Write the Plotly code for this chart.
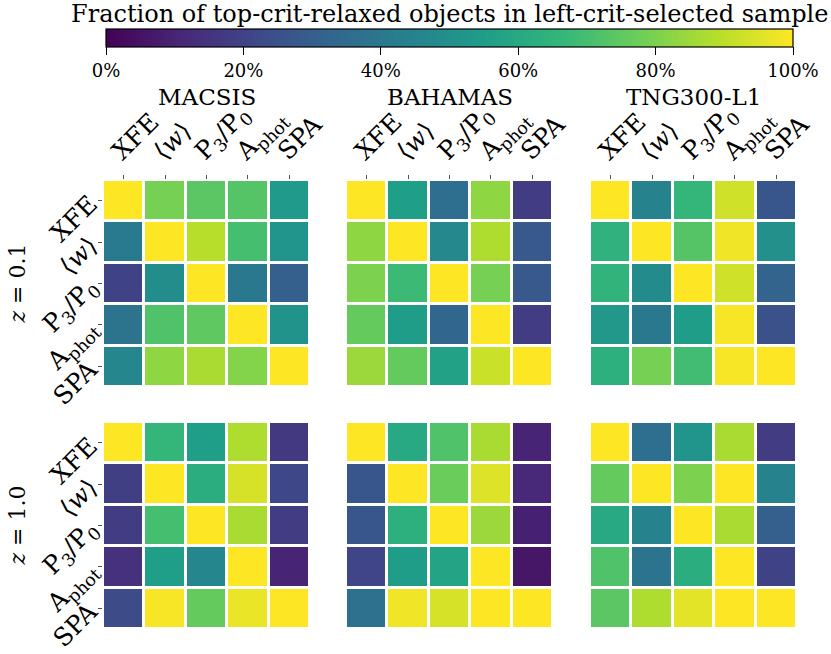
import plotly.graph_objects as go

criteria = ["XFE", "⟨<i>w</i>⟩", "P<sub>3</sub>/P<sub>0</sub>", "A<sub>phot</sub>", "SPA"]
simulations = ["MACSIS", "BAHAMAS", "TNG300-L1"]
redshifts = ["<i>z</i> = 0.1", "<i>z</i> = 1.0"]
cbar_title = "Fraction of top-crit-relaxed objects in left-crit-selected sample"
cbar_ticks = [0, 0.2, 0.4, 0.6, 0.8, 1.0]

macsis_z01 = [
    [1.00, 0.79, 0.74, 0.73, 0.54],
    [0.41, 1.00, 0.89, 0.70, 0.52],
    [0.20, 0.49, 1.00, 0.40, 0.30],
    [0.38, 0.72, 0.75, 1.00, 0.51],
    [0.46, 0.83, 0.87, 0.81, 1.00],
]
bahamas_z01 = [
    [1.00, 0.56, 0.36, 0.83, 0.18],
    [0.83, 1.00, 0.47, 0.88, 0.28],
    [0.80, 0.68, 1.00, 0.79, 0.28],
    [0.76, 0.55, 0.33, 1.00, 0.18],
    [0.85, 0.76, 0.57, 0.92, 1.00],
]
tng_z01 = [
    [1.00, 0.45, 0.66, 0.93, 0.27],
    [0.64, 1.00, 0.73, 0.98, 0.50],
    [0.65, 0.48, 1.00, 0.93, 0.32],
    [0.53, 0.40, 0.55, 0.99, 0.25],
    [0.63, 0.79, 0.69, 0.99, 1.00],
]
macsis_z10 = [
    [1.00, 0.66, 0.56, 0.88, 0.17],
    [0.19, 1.00, 0.62, 0.94, 0.22],
    [0.18, 0.70, 1.00, 0.87, 0.18],
    [0.14, 0.56, 0.46, 1.00, 0.10],
    [0.23, 0.99, 0.76, 0.97, 1.00],
]
bahamas_z10 = [
    [1.00, 0.60, 0.72, 0.87, 0.10],
    [0.27, 1.00, 0.77, 0.95, 0.11],
    [0.27, 0.63, 1.00, 0.85, 0.09],
    [0.21, 0.55, 0.58, 1.00, 0.06],
    [0.37, 0.98, 0.94, 1.00, 1.00],
]
tng_z10 = [
    [1.00, 0.36, 0.52, 0.87, 0.18],
    [0.76, 1.00, 0.80, 1.00, 0.45],
    [0.60, 0.45, 1.00, 0.87, 0.30],
    [0.72, 0.38, 0.62, 1.00, 0.20],
    [0.74, 0.88, 0.96, 1.00, 1.00],
]

panels = [
    [macsis_z01, bahamas_z01, tng_z01],
    [macsis_z10, bahamas_z10, tng_z10],
]

W, H = 831, 654
FONT = "DejaVu Serif"
x_px = [(103, 310), (346, 553), (590, 797)]
y_px = [(180, 387), (422, 629)]

fig = go.Figure()
idx = 0
layout_axes = {}
for r in range(2):
    for c in range(3):
        idx += 1
        xa = "x" if idx == 1 else f"x{idx}"
        ya = "y" if idx == 1 else f"y{idx}"
        fig.add_trace(go.Heatmap(
            z=panels[r][c], x=list(range(5)), y=list(range(5)),
            colorscale="Viridis", zmin=0, zmax=1,
            xgap=3, ygap=3, xaxis=xa, yaxis=ya,
            showscale=(idx == 1),
            colorbar=dict(
                orientation="h", x=449.5 / W, xanchor="center",
                y=1 - 29 / H, yanchor="top", len=687 / W, lenmode="fraction",
                xpad=0, ypad=0,
                thickness=18, outlinewidth=1.2, outlinecolor="black",
                tickvals=cbar_ticks, tickformat=".0%", ticks="outside",
                ticklen=8, tickcolor="black",
                tickfont=dict(family=FONT, size=18, color="black"),
            ) if idx == 1 else None,
            hoverinfo="skip",
        ))
        x0, x1 = x_px[c]
        y0, y1 = y_px[r]
        kx = "xaxis" if idx == 1 else f"xaxis{idx}"
        ky = "yaxis" if idx == 1 else f"yaxis{idx}"
        layout_axes[kx] = dict(
            domain=[x0 / W, x1 / W], anchor=ya, side="top", automargin=False,
            range=[-0.5, 4.5], showgrid=False, zeroline=False, showline=False,
            tickvals=list(range(5)), ticktext=criteria,
            showticklabels=(r == 0), ticks="outside" if r == 0 else "",
            ticklen=4, tickcolor="#555", tickangle=-45, ticklabelshift=-10,
            tickfont=dict(family=FONT, size=25, color="black"),
        )
        layout_axes[ky] = dict(
            domain=[1 - y1 / H, 1 - y0 / H], anchor=xa, automargin=False,
            range=[4.5, -0.5], showgrid=False, zeroline=False, showline=False,
            tickvals=list(range(5)), ticktext=criteria,
            showticklabels=(c == 0), ticks="outside" if c == 0 else "",
            ticklen=4, tickcolor="#555", tickangle=-45, ticklabelstandoff=3,
            tickfont=dict(family=FONT, size=25, color="black"),
        )

annotations = [dict(
    text=cbar_title, x=449.5 / W, y=1 - 14 / H, xref="paper", yref="paper",
    xanchor="center", yanchor="middle", showarrow=False,
    font=dict(family=FONT, size=24, color="black"),
)]
for c, name in enumerate(simulations):
    x0, x1 = x_px[c]
    annotations.append(dict(
        text=name, x=(x0 + x1) / 2 / W, y=1 - 97 / H, xref="paper", yref="paper",
        xanchor="center", yanchor="middle", showarrow=False,
        font=dict(family=FONT, size=23, color="black"),
    ))
for r, zl in enumerate(redshifts):
    y0, y1 = y_px[r]
    annotations.append(dict(
        text=zl, x=17 / W, y=1 - (y0 + y1) / 2 / H, xref="paper", yref="paper",
        xanchor="center", yanchor="middle", showarrow=False, textangle=-90,
        font=dict(family=FONT, size=22, color="black"),
    ))

fig.update_layout(
    width=W, height=H, margin=dict(l=0, r=0, t=0, b=0, autoexpand=False),
    paper_bgcolor="white", plot_bgcolor="white",
    font=dict(family=FONT, color="black"),
    annotations=annotations, **layout_axes,
)
fig.write_html("out.html", config={"displayModeBar": False},
               post_script="document.body.style.margin='0';document.body.style.padding='0';")
